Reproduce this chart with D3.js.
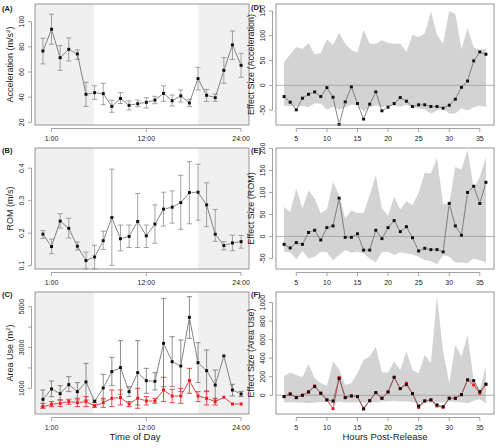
<!DOCTYPE html>
<html><head><meta charset="utf-8">
<script src="https://cdn.jsdelivr.net/npm/d3@7"></script>
<style>body{margin:0;background:#fff}svg{display:block;font-family:"Liberation Sans",Arial,Helvetica,sans-serif}</style>
</head><body><svg id="c" width="500" height="448"></svg>
<script>
// ---------- data ----------
const hourIdx = [0,1,2,3,4,5,6,7,8,9,10,11,12,13,14,15,16,17,18,19,20,21,22,23];
const hourTickIdx = [1,12,23];
const hourTickLabels = ["1:00","12:00","24:00"];
const nightSpans = [[-0.92,5.9],[18,23.92]];

const accMean = [76.7,93.9,71.4,78,74.3,42.3,43.6,42.8,32.7,39,33.5,34.8,35.9,37.7,43,37.2,41,35.4,54.7,41.5,39.6,61.3,81.5,65.3];
const accLo   = [66.4,82,61.3,68.7,70,32.7,38.3,34,28,35,29.8,32.4,31.4,34.8,36.7,33,36.2,32.4,45.7,36.7,36.7,51,70,55.8];
const accHi   = [86.8,106,81,87,77.5,51.8,49.1,51,37.5,43.6,37,37.7,39.6,40.7,49,41.7,45.7,38.3,63.7,46.2,42.5,71.4,92.6,74.8];

const romMean = [0.197,0.159,0.237,0.215,0.160,0.116,0.127,0.177,0.248,0.183,0.190,0.236,0.192,0.228,0.274,0.280,0.294,0.325,0.326,0.287,0.197,0.162,0.170,0.174];
const romLo   = [0.184,0.137,0.216,0.185,0.148,0.090,0.090,0.150,0.101,0.146,0.156,0.156,0.156,0.169,0.222,0.231,0.212,0.229,0.240,0.220,0.175,0.149,0.146,0.154];
const romHi   = [0.208,0.182,0.260,0.246,0.173,0.142,0.163,0.206,0.397,0.225,0.225,0.322,0.225,0.287,0.326,0.330,0.378,0.420,0.412,0.355,0.273,0.174,0.194,0.193];

const areaMean = [461,967,739,1180,837,1310,363,1016,1817,2013,837,1768,1376,1343,3205,2306,2094,4478,2257,1866,1163,2584,918,722];
const areaLo   = [100,592,428,837,428,428,300,428,1130,706,592,183,755,918,1082,1082,837,3450,1278,837,428,2584,624,600];
const areaHi   = [918,1360,1130,1571,1278,2225,430,1686,2519,3335,1082,3335,1980,1768,5409,3531,3368,5491,3237,2878,1898,2584,1196,850];
const areaRedMean = [102,216,265,347,298,347,135,298,510,543,233,510,380,380,918,624,624,1376,624,510,347,559,233,233];
const areaRedLo   = [20,102,102,216,102,102,69,69,102,183,102,20,183,265,347,298,265,755,347,183,183,559,233,233];
const areaRedHi   = [265,347,428,461,510,592,216,510,918,918,347,1000,592,510,1539,951,1000,1980,837,869,510,559,233,233];

const hoursPost = [3,4,5,6,7,8,9,10,11,12,13,14,15,16,17,18,19,20,21,22,23,24,25,26,27,28,29,30,31,32,33,34,35,36];
const postTicks = [5,10,15,20,25,30,35];

const dMean = [-22.7,-34,-49.3,-26,-18,-13.3,-22.7,-4.7,-24,-78.7,-33.3,-3.3,-36.7,-68,-38,-13.3,-51.3,-44,-36.7,-24.7,-32,-42.7,-39.3,-39.3,-42.7,-42.7,-46,-40,-28,-4,8.7,49.3,67.3,62.7];
const dHi   = [47,62,77,74,85,62,65,93,82,106,84,71,66,112,84,84,91,86,84,84,67,102,97,105,149,102,84,150,144,74,115,77,71,74];
const dLo   = [-41,-41,-43,-41,-44,-36,-37,-49,-43,-49,-44,-39,-39,-53,-44,-40,-44,-41,-41,-43,-39,-46,-46,-49,-57,-51,-46,-57,-57,-46,-51,-44,-41,-43];

const eMean = [-18,-26,-14,-18,9,14,-8,20,24,87,-2,-2,6,-31,-31,14,-5,20,36,11,22,-3,-33,-27,-30,-30,-35,75,24,3,100,114,75,123];
const eHi   = [67,56,109,64,105,86,52,62,123,94,41,59,53,53,94,139,64,47,90,61,80,71,100,145,143,178,73,75,158,152,197,109,135,180];
const eLo   = [-35,-36,-52,-33,-50,-46,-35,-36,-54,-42,-31,-37,-35,-39,-50,-59,-36,-35,-42,-36,-39,-41,-46,-54,-56,-64,-42,-46,-59,-59,-61,-50,-54,-59];

const fMean = [-14,14,-25,0,36,94,22,-50,-61,180,-25,-7,-14,-148,-58,29,-32,36,194,72,115,18,-115,-61,-50,-104,-122,-32,-32,7,166,158,40,119];
const fRed  = [-14,14,-25,0,36,101,22,-50,-144,191,-25,-7,-14,-140,-58,29,-32,36,194,72,130,18,-130,-61,-50,-115,-130,-32,-32,7,166,112,22,119];
const fHi   = [209,245,220,194,338,184,130,101,364,281,112,130,238,382,418,526,245,245,364,274,472,274,238,436,346,1066,472,130,544,418,652,166,60,317];
const fLo   = [-79,-76,-79,-79,-86,-79,-72,-72,-94,-68,-79,-79,-76,-79,-76,-79,-68,-68,-58,-68,-65,-76,-86,-79,-79,-76,-76,-68,-72,-76,-86,-58,-43,-86];

// ---------- layout ----------
const svg = d3.select('#c');
const colL = {x0:35, x1:249}, colR = {x0:276, x1:494};
const rows = [{y0:4,y1:125},{y0:148,y1:269},{y0:292,y1:414}];
const BOX = '#8a8a8a', TXT = '#222', LINE = '#6e6e6e', ERR = '#8c8c8c', RED = '#e8191f';

const xHour = d3.scaleLinear().domain([-0.92,23.92]).range([colL.x0,colL.x1]);
const xPost = d3.scaleLinear().domain([1.68,37.32]).range([colR.x0,colR.x1]);

function yScale(dom,row){ return d3.scaleLinear().domain(dom).range([row.y1,row.y0]); }

function axes(col,row,x,y,xt,xl,yt,yl,ytitle,plabel,plx,ply){
  const g = svg.append('g');
  const ay = row.y1 + 3.5;
  g.append('line').attr('x1',x(xt[0])).attr('x2',x(xt[xt.length-1])).attr('y1',ay).attr('y2',ay).attr('stroke',BOX).attr('stroke-width',0.8);
  xt.forEach((t,i)=>{
    g.append('line').attr('x1',x(t)).attr('x2',x(t)).attr('y1',ay).attr('y2',ay+3.5).attr('stroke',BOX).attr('stroke-width',0.8);
    g.append('text').attr('x',x(t)).attr('y',ay+12).attr('text-anchor','middle').attr('font-size',7).attr('fill',TXT).text(xl[i]);
  });
  const ax = col.x0 - 3.5;
  g.append('line').attr('x1',ax).attr('x2',ax).attr('y1',y(yt[0])).attr('y2',y(yt[yt.length-1])).attr('stroke',BOX).attr('stroke-width',0.8);
  yt.forEach((t,i)=>{
    g.append('line').attr('x1',ax).attr('x2',ax-3.5).attr('y1',y(t)).attr('y2',y(t)).attr('stroke',BOX).attr('stroke-width',0.8);
    if (yl[i]!==null){
      g.append('text').attr('transform',`translate(${ax-7.5},${y(t)}) rotate(-90)`).attr('text-anchor','middle')
       .attr('font-size',7).attr('fill',TXT).text(yl[i]);
    }
  });
  const tx = col.x0 - 22, ty = (row.y0+row.y1)/2;
  const tt = g.append('text').attr('transform',`translate(${tx},${ty}) rotate(-90)`).attr('text-anchor','middle')
    .attr('font-size',9).attr('fill',TXT);
  ytitle(tt);
  g.append('text').attr('x',plx).attr('y',ply).attr('font-size',7.5).attr('font-weight','bold').attr('fill',TXT).text(plabel);
}

function boxFrame(col,row){
  svg.append('rect').attr('x',col.x0).attr('y',row.y0).attr('width',col.x1-col.x0).attr('height',row.y1-row.y0)
    .attr('fill','none').attr('stroke',BOX).attr('stroke-width',0.9);
}

function night(row){
  const g = svg.append('g');
  nightSpans.forEach(s=>{
    g.append('rect').attr('x',xHour(s[0])).attr('y',row.y0).attr('width',xHour(s[1])-xHour(s[0])).attr('height',row.y1-row.y0).attr('fill','#f0f0f0');
  });
}

function errBars(x,y,xs,lo,hi,color){
  const g = svg.append('g').attr('stroke',color).attr('stroke-width',0.8);
  xs.forEach((v,i)=>{
    if (hi[i]-lo[i] <= 0) return;
    const cx = x(v);
    g.append('line').attr('x1',cx).attr('x2',cx).attr('y1',y(lo[i])).attr('y2',y(hi[i]));
    g.append('line').attr('x1',cx-2.6).attr('x2',cx+2.6).attr('y1',y(lo[i])).attr('y2',y(lo[i]));
    g.append('line').attr('x1',cx-2.6).attr('x2',cx+2.6).attr('y1',y(hi[i])).attr('y2',y(hi[i]));
  });
}

function gapLine(x,y,xs,ys,color,gap){
  const g = svg.append('g').attr('stroke',color).attr('stroke-width',0.85);
  for (let i=0;i<xs.length-1;i++){
    const x1=x(xs[i]), y1=y(ys[i]), x2=x(xs[i+1]), y2=y(ys[i+1]);
    const dx=x2-x1, dy=y2-y1, L=Math.hypot(dx,dy);
    if (L <= 2*gap) continue;
    const ux=dx/L, uy=dy/L;
    g.append('line').attr('x1',x1+ux*gap).attr('y1',y1+uy*gap).attr('x2',x2-ux*gap).attr('y2',y2-uy*gap);
  }
}

function pts(x,y,xs,ys,color){
  const g = svg.append('g').attr('fill',color);
  xs.forEach((v,i)=>{
    g.append('rect').attr('x',x(v)-1.5).attr('y',y(ys[i])-1.5).attr('width',3).attr('height',3);
  });
}

function band(x,y,xs,lo,hi){
  const area = d3.area().x((d,i)=>x(xs[i])).y0((d,i)=>y(lo[i])).y1((d,i)=>y(hi[i]));
  svg.append('path').attr('d',area(xs)).attr('fill','#d3d3d3');
  svg.append('line').attr('x1',x.range()[0]).attr('x2',x.range()[1]).attr('y1',y(0)).attr('y2',y(0)).attr('stroke','#a0a0a0').attr('stroke-width',0.8);
}

function sup(t,base,s,tail){
  t.append('tspan').text(base);
  t.append('tspan').attr('font-size',6).attr('dy',-3.5).text(s);
  t.append('tspan').attr('dy',3.5).text(tail);
}

// ---------- Panel A ----------
{
  const row = rows[0], y = yScale([17.9,114],row);
  night(row);
  errBars(xHour,y,hourIdx,accLo,accHi,ERR);
  gapLine(xHour,y,hourIdx,accMean,LINE,2.2);
  pts(xHour,y,hourIdx,accMean,'#111');
  boxFrame(colL,row);
  axes(colL,row,xHour,y,hourTickIdx,hourTickLabels,[20,40,60,80,100],['20','40','60','80','100'],
    t=>sup(t,'Acceleration (m/s','2',')'),'(A)',2,11);
}
// ---------- Panel B ----------
{
  const row = rows[1], y = yScale([0.0899,0.462],row);
  night(row);
  errBars(xHour,y,hourIdx,romLo,romHi,ERR);
  gapLine(xHour,y,hourIdx,romMean,LINE,2.2);
  pts(xHour,y,hourIdx,romMean,'#111');
  boxFrame(colL,row);
  axes(colL,row,xHour,y,hourTickIdx,hourTickLabels,[0.1,0.2,0.3,0.4],['0.1','0.2','0.3','0.4'],
    t=>t.text('ROM  (m/s)'),'(B)',2,153);
}
// ---------- Panel C ----------
{
  const row = rows[2], y = yScale([-259,5720],row);
  night(row);
  errBars(xHour,y,hourIdx,areaLo,areaHi,'#707070');
  errBars(xHour,y,hourIdx,areaRedLo,areaRedHi,RED);
  gapLine(xHour,y,hourIdx,areaMean,LINE,2.2);
  gapLine(xHour,y,hourIdx,areaRedMean,RED,2.2);
  pts(xHour,y,hourIdx,areaMean,'#111');
  pts(xHour,y,hourIdx,areaRedMean,RED);
  boxFrame(colL,row);
  axes(colL,row,xHour,y,hourTickIdx,hourTickLabels,[1000,2000,3000,4000,5000],['1000',null,'3000',null,'5000'],
    t=>sup(t,'Area Use (m','2',')'),'(C)',2,297);
  svg.append('text').attr('x',135).attr('y',440).attr('text-anchor','middle').attr('font-size',9.5).attr('fill',TXT).text('Time of Day');
}
// ---------- Panel D ----------
{
  const row = rows[0], y = yScale([-80,164],row);
  band(xPost,y,hoursPost,dLo,dHi);
  gapLine(xPost,y,hoursPost,dMean,LINE,2.2);
  pts(xPost,y,hoursPost,dMean,'#111');
  boxFrame(colR,row);
  axes(colR,row,xPost,y,postTicks,postTicks.map(String),[-50,0,50,100,150],['-50','0','50','100','150'],
    t=>t.text('Effect Size (Acceleration)'),'(D)',251,9.5);
}
// ---------- Panel E ----------
{
  const row = rows[1], y = yScale([-74,201],row);
  band(xPost,y,hoursPost,eLo,eHi);
  gapLine(xPost,y,hoursPost,eMean,LINE,2.2);
  pts(xPost,y,hoursPost,eMean,'#111');
  boxFrame(colR,row);
  axes(colR,row,xPost,y,postTicks,postTicks.map(String),[-50,0,50,100,150,200],['-50','0','50','100','150','200'],
    t=>t.text('Effect Size (ROM)'),'(E)',251,153);
}
// ---------- Panel F ----------
{
  const row = rows[2], y = yScale([-202,1115],row);
  band(xPost,y,hoursPost,fLo,fHi);
  gapLine(xPost,y,hoursPost,fRed,RED,2.2);
  gapLine(xPost,y,hoursPost,fMean,LINE,2.2);
  pts(xPost,y,hoursPost,fRed,RED);
  pts(xPost,y,hoursPost,fMean,'#111');
  boxFrame(colR,row);
  axes(colR,row,xPost,y,postTicks,postTicks.map(String),[0,200,400,600,800,1000],['0','200','400','600','800','1000'],
    t=>t.text('Effect Size (Area Use)'),'(F)',251,297);
  svg.append('text').attr('x',385).attr('y',440).attr('text-anchor','middle').attr('font-size',9.5).attr('fill',TXT).text('Hours Post-Release');
}
</script></body></html>
